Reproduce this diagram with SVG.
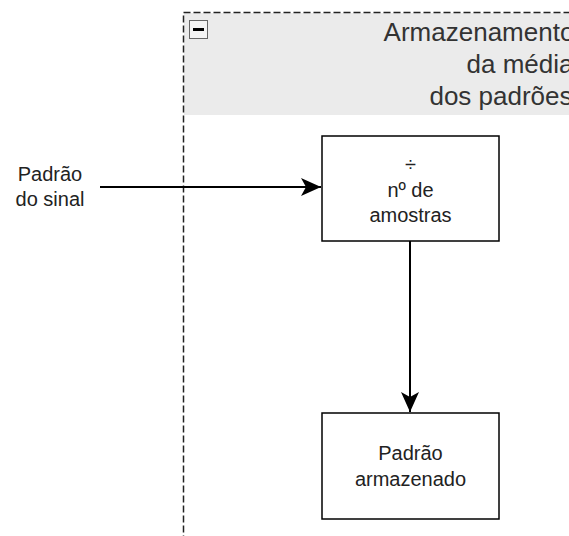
<svg xmlns="http://www.w3.org/2000/svg" width="569" height="536" viewBox="0 0 569 536">
<defs>
<style>
.t{font-family:"Liberation Sans",Arial,sans-serif;font-size:20px;fill:#222;text-anchor:middle}
.h{font-family:"Liberation Sans",Arial,sans-serif;font-size:26px;fill:#333;text-anchor:middle}
.box{fill:#fff;stroke:#000;stroke-width:1.5}
.edge{fill:none;stroke:#000;stroke-width:2}
</style>
<marker id="arr" markerWidth="22" markerHeight="22" viewBox="0 0 22 22" refX="20" refY="11" orient="auto" markerUnits="userSpaceOnUse">
<path d="M0,2 L20,11 L0,20 L5,11 Z" fill="#000"/>
</marker>
</defs>
<rect width="569" height="536" fill="#fff"/>
<g id="container">
<rect x="184" y="13" width="420" height="102" fill="#ebebeb"/>
<rect x="183.5" y="12.5" width="420" height="560" fill="none" stroke="#222" stroke-width="1.5" stroke-dasharray="7,3"/>
<rect x="189.5" y="20.5" width="18" height="18" fill="#f4f4f4" stroke="#666" stroke-width="1"/>
<rect x="193" y="28" width="11" height="3" fill="#000"/>
<text class="h" x="479" y="41">Armazenamento</text>
<text class="h" x="520" y="73">da média</text>
<text class="h" x="501" y="105">dos padrões</text>
</g>
<g id="edges">
<line class="edge" x1="100" y1="187" x2="321" y2="187" marker-end="url(#arr)"/>
<line class="edge" x1="410" y1="241" x2="410" y2="412" marker-end="url(#arr)"/>
</g>
<g id="sinal">
<text class="t" x="50" y="181">Padrão</text>
<text class="t" x="50" y="206">do sinal</text>
</g>
<g id="divisao">
<rect class="box" x="322" y="136" width="177" height="105"/>
<text class="t" x="410.5" y="171">÷</text>
<text class="t" x="410.5" y="197">nº de</text>
<text class="t" x="410.5" y="222">amostras</text>
</g>
<g id="armazenado">
<rect class="box" x="322" y="413" width="177" height="106"/>
<text class="t" x="410.5" y="460">Padrão</text>
<text class="t" x="410.5" y="486">armazenado</text>
</g>
</svg>
